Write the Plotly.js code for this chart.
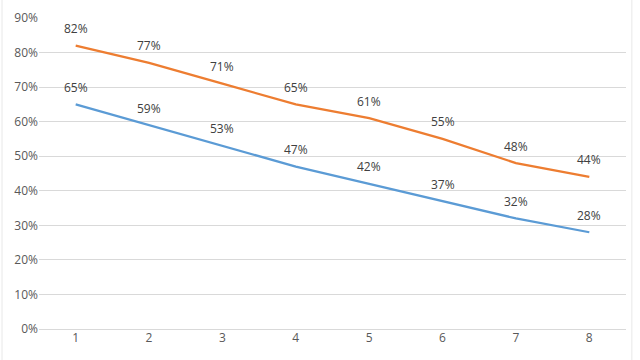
<!DOCTYPE html>
<html><head><meta charset="utf-8">
<script src="https://cdn.plot.ly/plotly-3.0.1.min.js"></script>
<style>html,body{margin:0;padding:0;background:#fff}#chart{width:640px;height:360px}</style>
</head><body><div id="chart"></div>
<script>
const categories = ['1','2','3','4','5','6','7','8'];
const seriesOrange = [0.82,0.77,0.71,0.65,0.61,0.55,0.48,0.44];
const seriesBlue = [0.65,0.59,0.53,0.47,0.42,0.37,0.32,0.28];
const yTicks = [0,0.1,0.2,0.3,0.4,0.5,0.6,0.7,0.8,0.9];

const font = 'Open Sans, Noto Sans, sans-serif';
function labels(vals){
  return vals.map((v,i)=>({x:i, y:v, xref:'x', yref:'y', text:Math.round(v*100)+'%',
    showarrow:false, yshift:17, font:{family:font,size:12,color:'#404040'}}));
}
const traces = [
  {x:categories, y:seriesBlue, type:'scatter', mode:'lines', line:{color:'#5B9BD5', width:2.25}, hoverinfo:'skip'},
  {x:categories, y:seriesOrange, type:'scatter', mode:'lines', line:{color:'#ED7D31', width:2.25}, hoverinfo:'skip'}
];
const layout = {
  width:640, height:360, showlegend:false,
  margin:{l:39, r:14, t:18, b:31},
  paper_bgcolor:'#fff', plot_bgcolor:'#fff',
  font:{family:font, size:12, color:'#595959'},
  xaxis:{type:'category', showgrid:false, zeroline:false, showline:false, ticks:'',
    tickfont:{family:font,size:12,color:'#595959'}, range:[-0.5,7.5], fixedrange:true},
  yaxis:{range:[0,0.9], tickvals:yTicks, tickformat:'.0%', showgrid:true, gridcolor:'#d9d9d9', gridwidth:1,
    zeroline:true, zerolinecolor:'#d9d9d9', showline:false, ticks:'', ticklen:0,
    tickfont:{family:font,size:12,color:'#595959'}, fixedrange:true},
  annotations: labels(seriesOrange).concat(labels(seriesBlue)),
  shapes:[
    {type:'line', xref:'paper', yref:'paper', x0:-0.063, x1:-0.063, y0:-0.11, y1:1.06, line:{color:'#e8e8e8', width:1}},
    {type:'line', xref:'paper', yref:'paper', x0:1.01, x1:1.01, y0:-0.11, y1:1.06, line:{color:'#e8e8e8', width:1}}
  ]
};
Plotly.newPlot('chart', traces, layout, {staticPlot:true});
</script></body></html>
